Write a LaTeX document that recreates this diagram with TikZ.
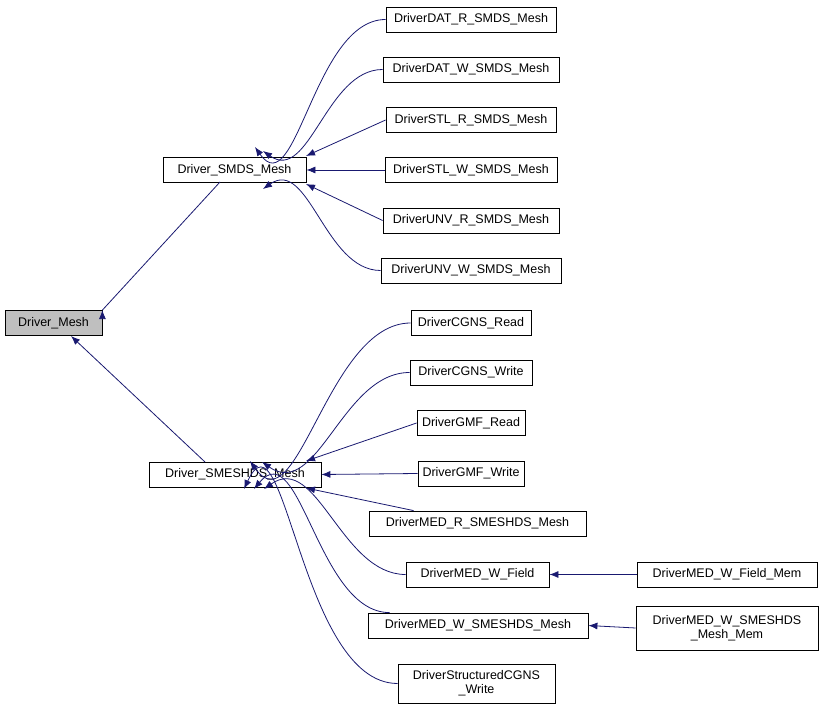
\documentclass[tikz,border=0pt]{standalone}
\usepackage{fontspec}
\setmainfont{Liberation Sans}
\usetikzlibrary{arrows.meta}
\definecolor{edgeblue}{HTML}{191970}
\tikzset{
  box/.style={draw=black, line width=0.8pt, minimum height=25pt, inner sep=2pt, align=center, font=\fontsize{12.5}{14}\selectfont},
  inh/.style={draw=edgeblue, line width=0.8pt, -{Latex[length=9pt,width=7pt]}}
}
\begin{document}
\begin{tikzpicture}[x=1pt, y=-1pt]
  \useasboundingbox (0,0) rectangle (823,711);
  % Base and intermediate classes
  \node[box, fill=black!25, minimum width=97pt] (mesh) at (53.5,323) {Driver\_Mesh};
  \node[box, minimum width=143pt] (smds) at (234.5,170) {Driver\_SMDS\_Mesh};
  \node[box, minimum width=172pt] (smeshds) at (235,474.5) {Driver\_SMESHDS\_Mesh};

  % SMDS drivers
  \node[box, minimum width=170pt] (datr) at (471,19.5) {DriverDAT\_R\_SMDS\_Mesh};
  \node[box, minimum width=176pt] (datw) at (471,69.5) {DriverDAT\_W\_SMDS\_Mesh};
  \node[box, minimum width=170pt] (stlr) at (471,120) {DriverSTL\_R\_SMDS\_Mesh};
  \node[box, minimum width=172pt] (stlw) at (471,170) {DriverSTL\_W\_SMDS\_Mesh};
  \node[box, minimum width=176pt] (unvr) at (471,220.5) {DriverUNV\_R\_SMDS\_Mesh};
  \node[box, minimum width=180pt] (unvw) at (471,270.5) {DriverUNV\_W\_SMDS\_Mesh};

  % SMESHDS drivers
  \node[box, minimum width=120pt] (cgnsr) at (471,323) {DriverCGNS\_Read};
  \node[box, minimum width=122pt] (cgnsw) at (471,372.5) {DriverCGNS\_Write};
  \node[box, minimum width=108pt] (gmfr) at (471,423) {DriverGMF\_Read};
  \node[box, minimum width=106pt] (gmfw) at (471,473.5) {DriverGMF\_Write};
  \node[box, minimum width=217pt] (medr) at (477.5,523.5) {DriverMED\_R\_SMESHDS\_Mesh};
  \node[box, minimum width=143pt] (medwf) at (477.5,574.5) {DriverMED\_W\_Field};
  \node[box, minimum width=220pt] (medw) at (478,625.5) {DriverMED\_W\_SMESHDS\_Mesh};
  \node[box, minimum width=157pt, minimum height=39pt] (scgns) at (476.5,683.5) {DriverStructuredCGNS\\\_Write};
  \node[box, minimum width=180pt] (medwfm) at (727,574.5) {DriverMED\_W\_Field\_Mem};
  \node[box, minimum width=182pt, minimum height=44pt] (medwm) at (727,628) {DriverMED\_W\_SMESHDS\\\_Mesh\_Mem};

  % Inheritance edges
  \draw[inh] (smds.south west) ++(57,0) -- ++(0,0) (220,182) -- (mesh.north east) ++(0,0);
  \draw[inh] (205,462) -- (71,336);
  \draw[inh] (datr.west) to[out=180, in=-55] (255,147);
  \draw[inh] (datw.west) to[out=180, in=-35] (263,151);
  \draw[inh] (stlr.west) -- (306,156);
  \draw[inh] (stlw.west) -- (smds.east);
  \draw[inh] (unvr.west) -- (306,184);
  \draw[inh] (unvw.west) to[out=180, in=35] (263,189);
  \draw[inh] (cgnsr.west) to[out=180, in=-55] (250,461);
  \draw[inh] (cgnsw.west) to[out=180, in=-35] (262,462);
  \draw[inh] (gmfr.west) -- (306,461);
  \draw[inh] (gmfw.west) -- (smeshds.east);
  \draw[inh] (medr.north west) ++(45,0) -- (306,488);
  \draw[inh] (medwf.west) to[out=180, in=35] (264,489);
  \draw[inh] (medw.north west) ++(22,0) to[out=180, in=50] (254,489);
  \draw[inh] (scgns.west) to[out=180, in=65] (244,489);
  \draw[inh] (medwfm.west) -- (medwf.east);
  \draw[inh] (medwm.west) -- (medw.east);
\end{tikzpicture}
\end{document}
